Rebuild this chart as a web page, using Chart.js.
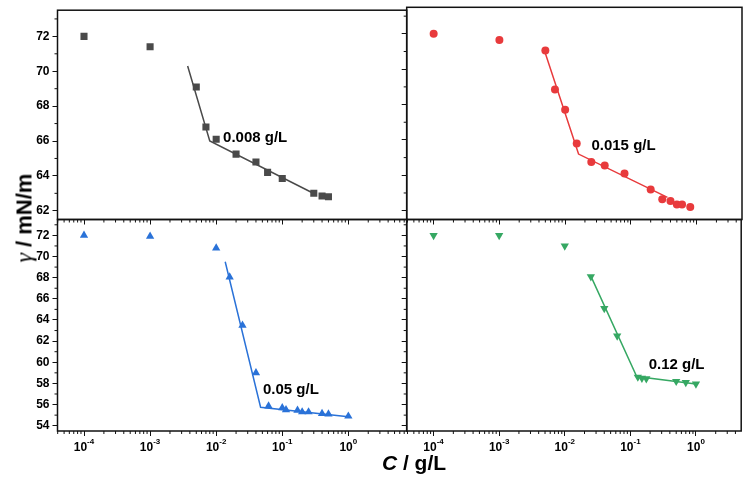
<!DOCTYPE html>
<html>
<head>
<meta charset="utf-8">
<script src="https://cdn.jsdelivr.net/npm/chart.js@4/dist/chart.umd.min.js"></script>
<style>
  html, body { margin: 0; padding: 0; background: #fff; }
  #wrap { position: relative; width: 746px; height: 483px; overflow: hidden;
          font-family: "Liberation Sans", Arial, Helvetica, sans-serif; color: #000; }
  #wrap canvas { position: absolute; left: 0; top: 0; }
  .title { position: absolute; font-size: 22px; font-weight: bold; line-height: 22px;
           white-space: nowrap; transform: translate(-50%, -50%); }
  .ytitle { left: 24px; top: 218px; transform: translate(-50%, -50%) rotate(-90deg); }
  .xtitle { left: 414px; top: 462px; font-size: 21px; line-height: 21px; }
  .gam { font-family: "Liberation Serif", "DejaVu Serif", serif; font-style: italic; font-weight: normal; font-size: 24px; }
</style>
</head>
<body>
<div id="wrap">
  <canvas id="tl" width="746" height="483"></canvas>
  <canvas id="tr" width="746" height="483"></canvas>
  <canvas id="bl" width="746" height="483"></canvas>
  <canvas id="br" width="746" height="483"></canvas>
  <div class="title ytitle"><span class="gam">γ</span> / mN/m</div>
  <div class="title xtitle"><i>C</i> / g/L</div>
</div>
<script>
// tick values
const decadeTicks = [1e-4, 1e-3, 1e-2, 1e-1, 1];
const topTicks = [62, 64, 66, 68, 70, 72];
const bottomTicks = [54, 56, 58, 60, 62, 64, 66, 68, 70, 72];

// 0.008 g/L (grey squares)
const c008 = [1e-4, 1e-3, 0.005, 0.007, 0.01, 0.02, 0.04, 0.06, 0.1, 0.3, 0.4, 0.5];
const g008 = [72.0, 71.4, 69.1, 66.8, 66.1, 65.25, 64.8, 64.2, 63.85, 63.0, 62.85, 62.8];
const fit008C = [0.0037, 0.008, 0.28];
const fit008G = [70.3, 66.0, 63.05];

// 0.015 g/L (red circles)
const c015 = [1e-4, 1e-3, 0.005, 0.007, 0.01, 0.015, 0.025, 0.04, 0.08, 0.2, 0.3, 0.4, 0.5, 0.6, 0.8];
const g015 = [72.0, 71.65, 71.05, 68.85, 67.7, 65.8, 64.75, 64.55, 64.1, 63.2, 62.65, 62.55, 62.35, 62.35, 62.2];
const fit015C = [0.0047, 0.016, 0.36];
const fit015G = [71.2, 65.2, 62.75];

// 0.05 g/L (blue triangles)
const c05 = [1e-4, 1e-3, 0.01, 0.016, 0.025, 0.04, 0.062, 0.1, 0.114, 0.17, 0.2, 0.25, 0.4, 0.5, 1.0];
const g05 = [72.0, 71.9, 70.8, 68.05, 63.5, 59.0, 55.85, 55.7, 55.5, 55.45, 55.3, 55.3, 55.15, 55.1, 54.9];
const fit05C = [0.0137, 0.047, 1.0];
const fit05G = [69.5, 55.75, 54.85];

// 0.12 g/L (green down triangles)
const c12 = [1e-4, 1e-3, 0.01, 0.025, 0.04, 0.063, 0.13, 0.15, 0.175, 0.5, 0.7, 1.0];
const g12 = [72.0, 72.0, 71.0, 68.1, 65.1, 62.5, 58.6, 58.5, 58.45, 58.2, 58.1, 57.95];
const fit12C = [0.025, 0.125, 1.0];
const fit12G = [68.15, 58.65, 57.95];

const FONT = '"Liberation Sans", Arial, Helvetica, sans-serif';
const AXIS = '#111';

// box, minor ticks, decade labels and the cmc note
const frame = {
  id: 'frame',
  afterDraw(chart, args, opts) {
    const { ctx, chartArea: a, scales: { x, y } } = chart;
    ctx.save();
    ctx.strokeStyle = AXIS;
    ctx.lineWidth = 1;
    ctx.beginPath();
    for (let v = Math.ceil(y.min); v <= y.max; v++) {
      if (opts.yTicks.includes(v)) continue;
      const py = y.getPixelForValue(v);
      ctx.moveTo(a.left, py); ctx.lineTo(a.left - 3, py);
    }
    for (let e = -5; e <= 1; e++) {
      for (let k = 2; k <= 9; k++) {
        const v = k * Math.pow(10, e);
        if (v < x.min || v > x.max) continue;
        const px = x.getPixelForValue(v);
        ctx.moveTo(px, a.bottom); ctx.lineTo(px, a.bottom + 3);
      }
    }
    ctx.stroke();

    ctx.lineWidth = 1.5;
    ctx.strokeRect(a.left, a.top, a.right - a.left, a.bottom - a.top);

    ctx.fillStyle = '#000';
    if (opts.xLabels) {
      ctx.textBaseline = 'alphabetic';
      ctx.textAlign = 'left';
      decadeTicks.forEach(v => {
        const px = x.getPixelForValue(v);
        const exp = String(Math.round(Math.log10(v)));
        ctx.font = 'bold 12px ' + FONT;
        const w1 = ctx.measureText('10').width;
        ctx.font = 'bold 8px ' + FONT;
        const w2 = ctx.measureText(exp).width;
        const x0 = px - (w1 + w2) / 2;
        ctx.font = 'bold 12px ' + FONT;
        ctx.fillText('10', x0, a.bottom + 20);
        ctx.font = 'bold 8px ' + FONT;
        ctx.fillText(exp, x0 + w1, a.bottom + 13);
      });
    }
    if (opts.note) {
      ctx.font = 'bold 15px ' + FONT;
      ctx.textAlign = 'left';
      ctx.textBaseline = 'middle';
      ctx.fillText(opts.note.text, x.getPixelForValue(opts.note.c), y.getPixelForValue(opts.note.g));
    }
    ctx.restore();
  }
};

function pairs(xs, ys) {
  return xs.map((v, i) => ({ x: v, y: ys[i] }));
}

function panel(id, p) {
  return new Chart(document.getElementById(id), {
    type: 'scatter',
    data: {
      datasets: [
        {
          data: pairs(p.c, p.g),
          pointStyle: p.marker, rotation: p.rotation || 0, pointRadius: p.radius,
          backgroundColor: p.color, borderColor: p.color, borderWidth: 0
        },
        {
          data: pairs(p.fitC, p.fitG),
          showLine: true, pointRadius: 0, borderColor: p.color, borderWidth: 1.5, fill: false
        }
      ]
    },
    options: {
      responsive: false, animation: false, events: [],
      layout: { padding: p.pad },
      plugins: {
        legend: { display: false },
        tooltip: { enabled: false },
        frame: { yTicks: p.yTicks, xLabels: p.xLabels, note: p.note }
      },
      scales: {
        x: {
          type: 'logarithmic', bounds: 'data', min: p.xMin, max: p.xMax,
          afterBuildTicks: s => { s.ticks = decadeTicks.map(v => ({ value: v })); },
          afterFit: s => { s.height = 0; },
          ticks: { display: false },
          grid: { drawOnChartArea: false, tickLength: 5, color: AXIS, lineWidth: 1 },
          border: { display: false }
        },
        y: {
          type: 'linear', bounds: 'data', min: p.yMin, max: p.yMax,
          afterBuildTicks: s => { s.ticks = p.yTicks.map(v => ({ value: v })); },
          afterFit: s => { s.width = p.yW; },
          ticks: { display: p.yLabels, color: '#000', padding: 3,
                   font: { family: FONT, size: 12, weight: 'bold' } },
          grid: { drawOnChartArea: false, tickLength: 5, color: AXIS, lineWidth: 1 },
          border: { display: false }
        }
      }
    },
    plugins: [frame]
  });
}

const leftX = { xMin: Math.pow(10, -4.401), xMax: Math.pow(10, 0.883) };
const rightX = { xMin: Math.pow(10, -4.41), xMax: Math.pow(10, 0.69) };
const topY = { yMin: 61.5, yMax: 73.5, yTicks: topTicks };
const bottomY = { yMin: 53.5, yMax: 73.5, yTicks: bottomTicks };

panel('tl', Object.assign({
  c: c008, g: g008, fitC: fit008C, fitG: fit008G,
  marker: 'rect', radius: 5, color: '#4a4a4a',
  pad: { left: 0, top: 7.3, right: 339.3, bottom: 263.5 }, yW: 57.5, yLabels: true, xLabels: false,
  note: { text: '0.008 g/L', c: 0.0127, g: 66.2 }
}, leftX, topY));

panel('tr', Object.assign({
  c: c015, g: g015, fitC: fit015C, fitG: fit015G,
  marker: 'circle', radius: 4, color: '#e83a3c',
  pad: { left: 406.7, top: 7.3, right: 2.7, bottom: 263.5 }, yW: 0, yLabels: false, xLabels: false,
  note: { text: '0.015 g/L', c: 0.0251, g: 65.64 }
}, rightX, topY));

panel('bl', Object.assign({
  c: c05, g: g05, fitC: fit05C, fitG: fit05G,
  marker: 'triangle', radius: 4.8, color: '#2a72d8',
  pad: { left: 0, top: 219.5, right: 339.3, bottom: 52 }, yW: 57.5, yLabels: true, xLabels: true,
  note: { text: '0.05 g/L', c: 0.051, g: 57.39 }
}, leftX, bottomY));

panel('br', Object.assign({
  c: c12, g: g12, fitC: fit12C, fitG: fit12G,
  marker: 'triangle', rotation: 180, radius: 4.8, color: '#36a863',
  pad: { left: 406.7, top: 219.5, right: 2.7, bottom: 52 }, yW: 0, yLabels: false, xLabels: true,
  note: { text: '0.12 g/L', c: 0.19, g: 59.75 }
}, rightX, bottomY));
</script>
</body>
</html>
